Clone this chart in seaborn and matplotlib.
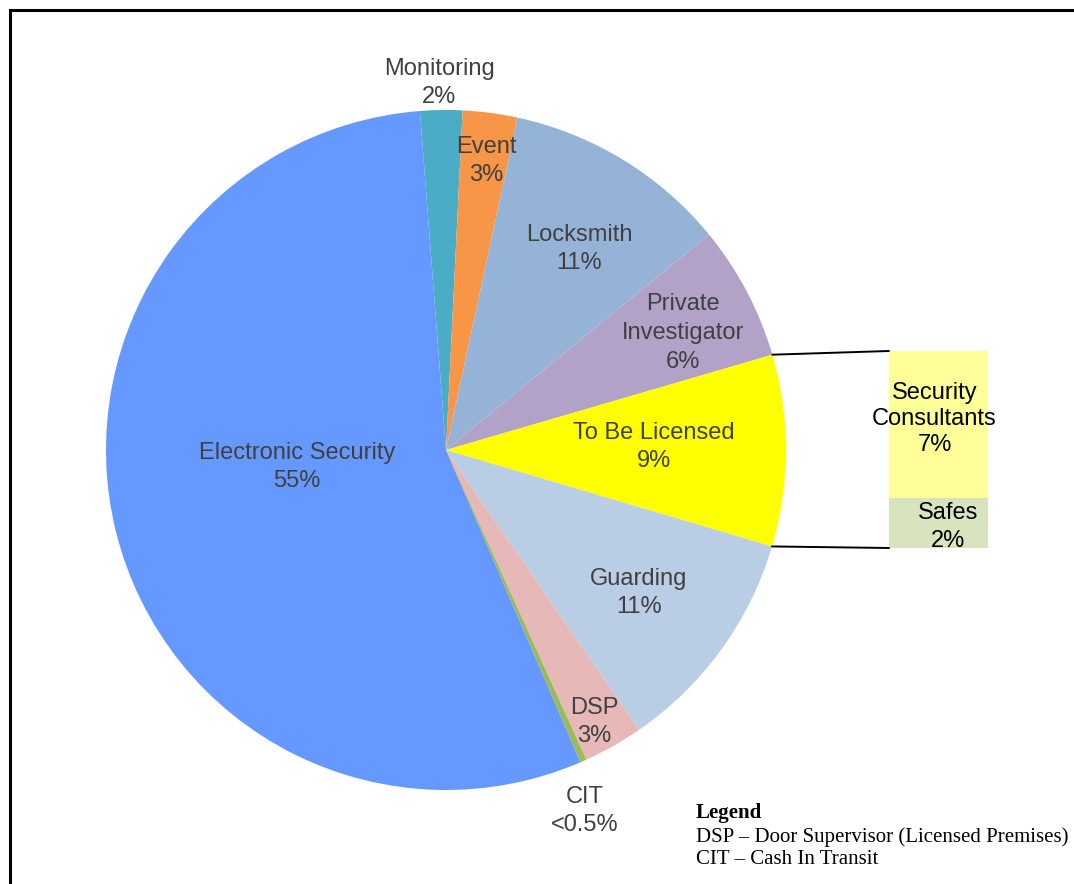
import matplotlib
matplotlib.use("Agg")
import matplotlib.pyplot as plt
from matplotlib.patches import ConnectionPatch
import numpy as np
import pandas as pd
import seaborn as sns

# ---- data ----
pie_labels = ["Monitoring", "Event", "Locksmith", "Private\nInvestigator", "To Be Licensed",
              "Guarding", "DSP", "CIT", "Electronic Security"]
pie_pct_text = ["2%", "3%", "11%", "6%", "9%", "11%", "3%", "<0.5%", "55%"]
pie_values = [2.0, 2.6, 10.7, 6.4, 9.1, 10.8, 2.85, 0.3, 55.25]
pie_colors = ["#4BACC6", "#F79646", "#95B3D7", "#B2A2C7", "#FFFF00",
              "#B9CDE5", "#E6B9B8", "#9BBB59", "#6699FF"]

bar_labels = ["Security\nConsultants", "Safes"]
bar_pct_text = ["7%", "2%"]
bar_values = [7.0, 2.4]
bar_colors = ["#FFFF99", "#D7E4BD"]

legend_title = "Legend"
legend_lines = ["DSP \u2013 Door Supervisor (Licensed Premises)", "CIT \u2013 Cash In Transit"]

W, H = 1074, 884
sns.set_theme(style="white")
plt.rcParams["font.family"] = ["Liberation Sans", "DejaVu Sans"]

fig = plt.figure(figsize=(W / 100, H / 100), dpi=100)
ax = fig.add_axes([0, 0, 1, 1])

def py(y):  # pixel-from-top to data y
    return H - y

wedges, _ = ax.pie(pie_values, colors=pie_colors, startangle=94.4, counterclock=False,
                   center=(446, py(450)), radius=340,
                   wedgeprops=dict(edgecolor="none", linewidth=0))
ax.set_xlim(0, W)
ax.set_ylim(0, H)
ax.set_aspect("equal")
ax.axis("off")

# pie labels (positions in pixels from top-left)
label_pos = [(439, 83), (486, 161), (579, 249), (683, 333), (654, 447),
             (639, 593), (594, 722), (585, 811), (297, 467)]
txt_color = "#404040"
for lab, pct, (x, y) in zip(pie_labels, pie_pct_text, label_pos):
    ax.text(x, py(y), f"{lab}\n{pct}", ha="center", va="center", fontsize=17,
            color=txt_color, linespacing=1.4)

# bar of pie (stacked) via seaborn
bx0, by0, bw, bh = 889, 351, 99, 197
bax = fig.add_axes([bx0 / W, (H - by0 - bh) / H, bw / W, bh / H])
total = sum(bar_values)
df_top = pd.DataFrame({"x": [0], "v": [total]})
df_bot = pd.DataFrame({"x": [0], "v": [bar_values[1]]})
sns.barplot(data=df_top, x="x", y="v", color=bar_colors[0], width=1.0, ax=bax,
            saturation=1, linewidth=0)
sns.barplot(data=df_bot, x="x", y="v", color=bar_colors[1], width=1.0, ax=bax,
            saturation=1, linewidth=0)
bax.set_xlim(-0.5, 0.5)
bax.set_ylim(0, total)
bax.axis("off")

# bar labels
bax.text(-0.04, 6.15, f"{bar_labels[0]}\n{bar_pct_text[0]}", ha="center", va="center",
         fontsize=17, color="black", linespacing=1.25, clip_on=False)
bax.text(0.096, 1.0, f"{bar_labels[1]}\n{bar_pct_text[1]}",
         ha="center", va="center", fontsize=17, color="black", linespacing=1.3,
         clip_on=False)

# connector lines from the "To Be Licensed" wedge to the bar
w = wedges[4]
cx, cy = w.center
r = w.r
for theta, yb in [(w.theta2, 1.0), (w.theta1, 0.0)]:
    p = (cx + r * np.cos(np.radians(theta)), cy + r * np.sin(np.radians(theta)))
    con = ConnectionPatch(xyA=p, coordsA=ax.transData, xyB=(0, yb), coordsB=bax.transAxes,
                          color="black", linewidth=1.4)
    fig.add_artist(con)

# legend text
serif = ["Liberation Serif", "DejaVu Serif"]
ax.text(696, py(813), legend_title, ha="left", va="center", fontsize=15,
        fontweight="bold", family=serif, color="black")
for i, line in enumerate(legend_lines):
    ax.text(696, py(837 + 23 * i), line, ha="left", va="center", fontsize=15,
            family=serif, color="black")

# frame (left and top edges)
ax.plot([9.5, 9.5], [0, py(9.5)], color="black", linewidth=2.2, solid_capstyle="projecting")
ax.plot([9.5, W], [py(9.5), py(9.5)], color="black", linewidth=2.2, solid_capstyle="projecting")

fig.savefig("out.png", dpi=100)
